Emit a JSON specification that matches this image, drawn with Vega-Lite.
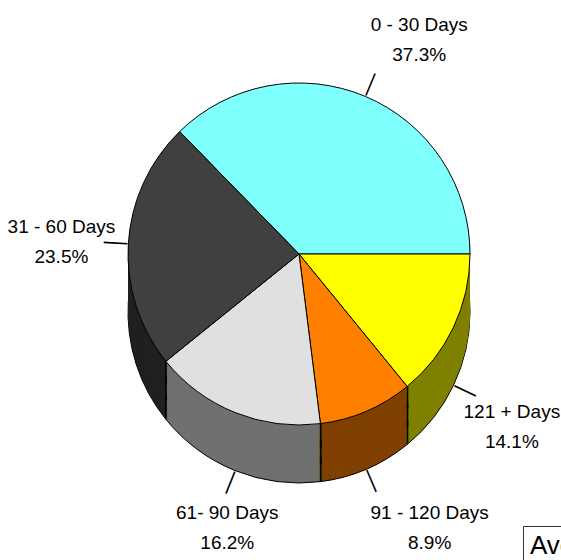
{
  "$schema": "https://vega.github.io/schema/vega-lite/v6.json",
  "autosize": {"type": "none"},
  "padding": {"left": 37, "top": 0, "right": 0, "bottom": 52},
  "width": 524,
  "height": 508,
  "background": "white",
  "config": {"view": {"stroke": null}},
  "data": {
    "values": [
      {"label": "0 - 30 Days", "value": 0.373, "order": 1},
      {"label": "121 + Days", "value": 0.141, "order": 2},
      {"label": "91 - 120 Days", "value": 0.089, "order": 3},
      {"label": "61- 90 Days", "value": 0.162, "order": 4},
      {"label": "31 - 60 Days", "value": 0.235, "order": 5}
    ]
  },
  "encoding": {
    "theta": {"field": "value", "type": "quantitative", "stack": true, "scale": {"domain": [0, 1], "range": [-0.772831, 5.510354]}},
    "order": {"field": "order", "type": "quantitative"}
  },
  "layer": [
    {"mark": {"type": "arc", "radius": 171, "yOffset": 58, "stroke": "black", "strokeWidth": 1},
     "encoding": {"color": {"field": "label", "type": "nominal", "scale": {"domain": ["31 - 60 Days", "61- 90 Days", "91 - 120 Days", "121 + Days", "0 - 30 Days"], "range": ["#202020", "#707070", "#804000", "#808000", "#408080"]}, "legend": null}}},
    {"mark": {"type": "arc", "radius": 171, "yOffset": 56}, "encoding": {"color": {"field": "label", "type": "nominal", "legend": null}}},
    {"mark": {"type": "arc", "radius": 171, "yOffset": 54}, "encoding": {"color": {"field": "label", "type": "nominal", "legend": null}}},
    {"mark": {"type": "arc", "radius": 171, "yOffset": 52}, "encoding": {"color": {"field": "label", "type": "nominal", "legend": null}}},
    {"mark": {"type": "arc", "radius": 171, "yOffset": 50}, "encoding": {"color": {"field": "label", "type": "nominal", "legend": null}}},
    {"mark": {"type": "arc", "radius": 171, "yOffset": 48}, "encoding": {"color": {"field": "label", "type": "nominal", "legend": null}}},
    {"mark": {"type": "arc", "radius": 171, "yOffset": 46}, "encoding": {"color": {"field": "label", "type": "nominal", "legend": null}}},
    {"mark": {"type": "arc", "radius": 171, "yOffset": 44}, "encoding": {"color": {"field": "label", "type": "nominal", "legend": null}}},
    {"mark": {"type": "arc", "radius": 171, "yOffset": 42}, "encoding": {"color": {"field": "label", "type": "nominal", "legend": null}}},
    {"mark": {"type": "arc", "radius": 171, "yOffset": 40}, "encoding": {"color": {"field": "label", "type": "nominal", "legend": null}}},
    {"mark": {"type": "arc", "radius": 171, "yOffset": 38}, "encoding": {"color": {"field": "label", "type": "nominal", "legend": null}}},
    {"mark": {"type": "arc", "radius": 171, "yOffset": 36}, "encoding": {"color": {"field": "label", "type": "nominal", "legend": null}}},
    {"mark": {"type": "arc", "radius": 171, "yOffset": 34}, "encoding": {"color": {"field": "label", "type": "nominal", "legend": null}}},
    {"mark": {"type": "arc", "radius": 171, "yOffset": 32}, "encoding": {"color": {"field": "label", "type": "nominal", "legend": null}}},
    {"mark": {"type": "arc", "radius": 171, "yOffset": 30}, "encoding": {"color": {"field": "label", "type": "nominal", "legend": null}}},
    {"mark": {"type": "arc", "radius": 171, "yOffset": 28}, "encoding": {"color": {"field": "label", "type": "nominal", "legend": null}}},
    {"mark": {"type": "arc", "radius": 171, "yOffset": 26}, "encoding": {"color": {"field": "label", "type": "nominal", "legend": null}}},
    {"mark": {"type": "arc", "radius": 171, "yOffset": 24}, "encoding": {"color": {"field": "label", "type": "nominal", "legend": null}}},
    {"mark": {"type": "arc", "radius": 171, "yOffset": 22}, "encoding": {"color": {"field": "label", "type": "nominal", "legend": null}}},
    {"mark": {"type": "arc", "radius": 171, "yOffset": 20}, "encoding": {"color": {"field": "label", "type": "nominal", "legend": null}}},
    {"mark": {"type": "arc", "radius": 171, "yOffset": 18}, "encoding": {"color": {"field": "label", "type": "nominal", "legend": null}}},
    {"mark": {"type": "arc", "radius": 171, "yOffset": 16}, "encoding": {"color": {"field": "label", "type": "nominal", "legend": null}}},
    {"mark": {"type": "arc", "radius": 171, "yOffset": 14}, "encoding": {"color": {"field": "label", "type": "nominal", "legend": null}}},
    {"mark": {"type": "arc", "radius": 171, "yOffset": 12}, "encoding": {"color": {"field": "label", "type": "nominal", "legend": null}}},
    {"mark": {"type": "arc", "radius": 171, "yOffset": 10}, "encoding": {"color": {"field": "label", "type": "nominal", "legend": null}}},
    {"mark": {"type": "arc", "radius": 171, "yOffset": 8}, "encoding": {"color": {"field": "label", "type": "nominal", "legend": null}}},
    {"mark": {"type": "arc", "radius": 171, "yOffset": 6}, "encoding": {"color": {"field": "label", "type": "nominal", "legend": null}}},
    {"mark": {"type": "arc", "radius": 171, "yOffset": 4}, "encoding": {"color": {"field": "label", "type": "nominal", "legend": null}}},
    {"mark": {"type": "arc", "radius": 171, "yOffset": 2}, "encoding": {"color": {"field": "label", "type": "nominal", "legend": null}}},
    {"transform": [{"stack": "value", "groupby": [], "sort": [{"field": "order", "order": "ascending"}], "as": ["b0", "b1"]}, {"filter": "datum.b1 > 0.4 && datum.b1 < 0.99"}],
     "mark": {"type": "text", "radius": 171, "yOffset": 12, "font": "DejaVu Sans Mono", "fontSize": 20, "align": "center", "baseline": "middle", "color": "black"},
     "encoding": {"theta": {"field": "b1", "type": "quantitative", "stack": null, "scale": {"domain": [0, 1], "range": [-0.772831, 5.510354]}}, "text": {"value": "│"}}},
    {"transform": [{"stack": "value", "groupby": [], "sort": [{"field": "order", "order": "ascending"}], "as": ["b0", "b1"]}, {"filter": "datum.b1 > 0.4 && datum.b1 < 0.99"}],
     "mark": {"type": "text", "radius": 171, "yOffset": 29, "font": "DejaVu Sans Mono", "fontSize": 20, "align": "center", "baseline": "middle", "color": "black"},
     "encoding": {"theta": {"field": "b1", "type": "quantitative", "stack": null, "scale": {"domain": [0, 1], "range": [-0.772831, 5.510354]}}, "text": {"value": "│"}}},
    {"transform": [{"stack": "value", "groupby": [], "sort": [{"field": "order", "order": "ascending"}], "as": ["b0", "b1"]}, {"filter": "datum.b1 > 0.4 && datum.b1 < 0.99"}],
     "mark": {"type": "text", "radius": 171, "yOffset": 46, "font": "DejaVu Sans Mono", "fontSize": 20, "align": "center", "baseline": "middle", "color": "black"},
     "encoding": {"theta": {"field": "b1", "type": "quantitative", "stack": null, "scale": {"domain": [0, 1], "range": [-0.772831, 5.510354]}}, "text": {"value": "│"}}},
    {"mark": {"type": "arc", "radius": 171, "stroke": "black", "strokeWidth": 1},
     "encoding": {"fill": {"field": "label", "type": "nominal",
       "scale": {"domain": ["0 - 30 Days", "121 + Days", "91 - 120 Days", "61- 90 Days", "31 - 60 Days"], "range": ["#80FFFF", "#FFFF00", "#FF8000", "#E0E0E0", "#404040"]},
       "legend": {"title": "Average Days Outstanding", "orient": "none", "legendX": 486, "legendY": 526, "strokeColor": "#333333", "padding": 7, "titleFont": "Liberation Sans", "titleFontSize": 26, "titleFontWeight": "normal", "titleColor": "black", "titleLimit": 600, "labelFontSize": 14}}}},
    {"mark": {"type": "text", "radius": 183, "font": "DejaVu Sans Mono", "fontSize": 20, "align": "center", "baseline": "middle", "color": "black",
       "angle": {"expr": "(datum.value_start + datum.value_end) * 180 - 44.28"},
       "yOffset": {"expr": "datum.order >= 2 && datum.order <= 4 ? 58 : 0"}},
     "encoding": {"text": {"value": "│"}}},
    {"mark": {"type": "text", "radius": 240, "font": "Liberation Sans", "fontSize": 19, "align": "center", "baseline": "middle", "color": "black",
       "dx": {"expr": "datum.order == 1 ? 27 : datum.order == 2 ? -4 : datum.order == 3 ? 36 : datum.order == 4 ? 18 : 2"},
       "dy": {"expr": "(datum.order == 1 ? 7 : datum.order == 2 ? 70 : datum.order == 3 ? 53 : datum.order == 4 ? 51 : 2) - 15"}},
     "encoding": {"text": {"field": "label", "type": "nominal"}}},
    {"mark": {"type": "text", "radius": 240, "font": "Liberation Sans", "fontSize": 19, "align": "center", "baseline": "middle", "color": "black",
       "dx": {"expr": "datum.order == 1 ? 27 : datum.order == 2 ? -4 : datum.order == 3 ? 36 : datum.order == 4 ? 18 : 2"},
       "dy": {"expr": "(datum.order == 1 ? 7 : datum.order == 2 ? 70 : datum.order == 3 ? 53 : datum.order == 4 ? 51 : 2) + 15"}},
     "encoding": {"text": {"field": "value", "type": "quantitative", "format": ".1%"}}}
  ]
}
